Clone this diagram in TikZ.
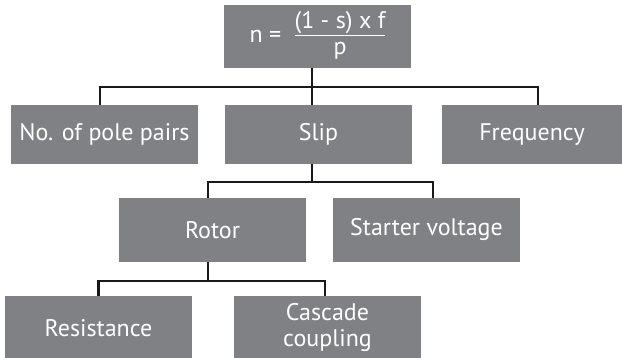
\documentclass[tikz,border=0pt]{standalone}
\usepackage{fontspec}
\setmainfont{PT Sans}
\begin{document}
\begin{tikzpicture}[x=1pt,y=-1pt,
  box/.style={rectangle,fill=boxgray,text=white,inner sep=0pt,minimum width=187pt,
    font=\fontsize{24}{26}\selectfont,align=center},
  conn/.style={draw=black!90,line width=2.2pt}]
\definecolor{boxgray}{HTML}{808184}
\useasboundingbox (0,0) rectangle (622,358);
\begin{scope}
\clip (0,0) rectangle (622,358);
\node[box,minimum height=63pt] (top) at (317.5,36.5)
  {n =\;\;\begin{tabular}{@{}c@{}}\underline{(1 - s) x f}\\ p\end{tabular}};
\node[box,minimum height=59pt] (npp) at (104.5,134.5) {No. of pole pairs};
\node[box,minimum height=59pt] (slip) at (318.5,134.5) {Slip};
\node[box,minimum height=59pt,minimum width=180pt] (freq) at (532,134.5) {Frequency};
\node[box,minimum height=64pt] (rotor) at (212.5,230) {Rotor};
\node[box,minimum height=64pt] (starter) at (426.5,230) {Starter voltage};
\node[box,minimum height=64pt] (res) at (98.5,328) {Resistance};
\node[box,minimum height=64pt] (casc) at (327.5,328) {Cascade\\coupling};
\coordinate (j1) at (312,87);
\coordinate (j2) at (312,182);
\coordinate (j3) at (208,281);
\draw[conn] ([xshift=-5.5pt]top.south) -- (j1);
\draw[conn] ([xshift=-4.5pt]npp.north) |- (j1) -| ([xshift=6pt]freq.north);
\draw[conn] (j1) -- ([xshift=-6.5pt]slip.north);
\draw[conn] ([xshift=-6.5pt]slip.south) -- (j2);
\draw[conn] ([xshift=-4.5pt]rotor.north) |- (j2) -| ([xshift=6.5pt]starter.north);
\draw[conn] ([xshift=-4.5pt]rotor.south) -- (j3);
\draw[conn] (res.north) |- (j3) -| ([xshift=-2.5pt]casc.north);
\end{scope}
\end{tikzpicture}
\end{document}
